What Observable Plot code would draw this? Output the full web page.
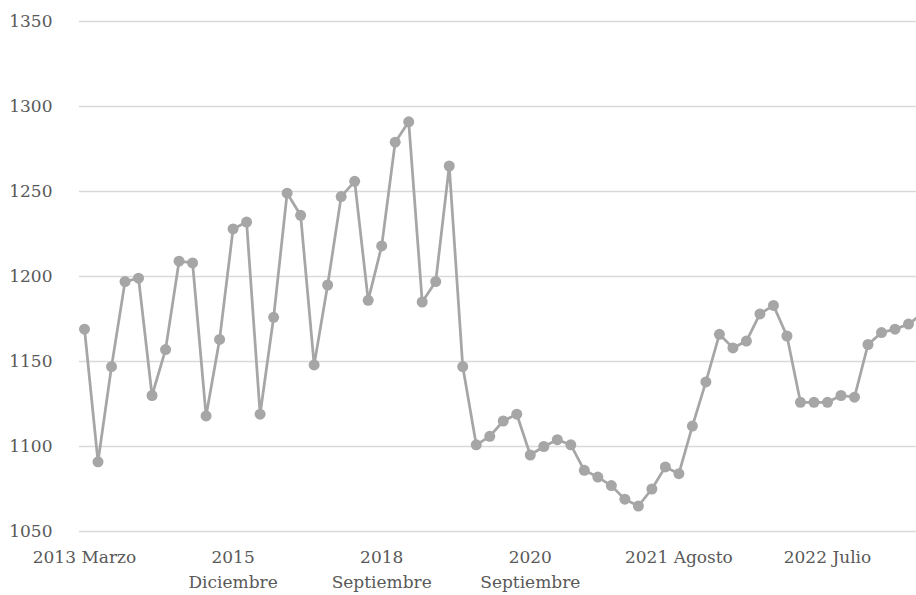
<!DOCTYPE html>
<html>
<head>
<meta charset="utf-8">
<script src="https://cdn.jsdelivr.net/npm/d3@7"></script>
<script src="https://cdn.jsdelivr.net/npm/@observablehq/plot@0.6"></script>
<style>
  html, body { margin: 0; padding: 0; background: #fff; overflow: hidden; }
</style>
</head>
<body>
<div id="chart"></div>
<script>
const values = [
  1169, 1091, 1147, 1197, 1199, 1130, 1157, 1209, 1208, 1118,
  1163, 1228, 1232, 1119, 1176, 1249, 1236, 1148, 1195, 1247,
  1256, 1186, 1218, 1279, 1291, 1185, 1197, 1265, 1147, 1101,
  1106, 1115, 1119, 1095, 1100, 1104, 1101, 1086, 1082, 1077,
  1069, 1065, 1075, 1088, 1084, 1112, 1138, 1166, 1158, 1162,
  1178, 1183, 1165, 1126, 1126, 1126, 1130, 1129, 1160, 1167,
  1169, 1172, 1178
];
const tickIndex = [0, 11, 22, 33, 44, 55];
const tickLabels = ["2013 Marzo", "2015\nDiciembre", "2018\nSeptiembre", "2020\nSeptiembre", "2021 Agosto", "2022 Julio"];
const yTicks = [1050, 1100, 1150, 1200, 1250, 1300, 1350];

const data = values.map((v, i) => ({i, v}));
const font = "DejaVu Serif";
const textColor = "#595959";
const lineColor = "#a6a6a6";

const chart = Plot.plot({
  width: 916,
  height: 595,
  marginLeft: 79,
  marginRight: 0,
  marginTop: 21,
  marginBottom: 64,
  style: {fontFamily: font, background: "#fff", overflow: "hidden"},
  x: {type: "linear", domain: [-0.37, 61.59], axis: null},
  y: {domain: [1050, 1350]},
  marks: [
    Plot.gridY(yTicks, {stroke: "#d9d9d9", strokeOpacity: 1, strokeWidth: 1.5}),
    Plot.axisY(yTicks, {tickSize: 0, tickPadding: 27, fontSize: 17, fill: textColor, fontFamily: font, tickFormat: d => String(d), label: null}),
    Plot.line(data, {x: "i", y: "v", stroke: lineColor, strokeWidth: 2.75, clip: true}),
    Plot.dot(data, {x: "i", y: "v", r: 5.5, fill: lineColor, stroke: "none", clip: true}),
    Plot.text(tickIndex, {
      x: d => d,
      frameAnchor: "bottom",
      dy: 14,
      text: (d, k) => tickLabels[k],
      lineAnchor: "top",
      lineHeight: 1.47,
      fontSize: 17,
      fill: textColor,
      fontFamily: font
    })
  ]
});
document.getElementById("chart").appendChild(chart);
</script>
</body>
</html>
